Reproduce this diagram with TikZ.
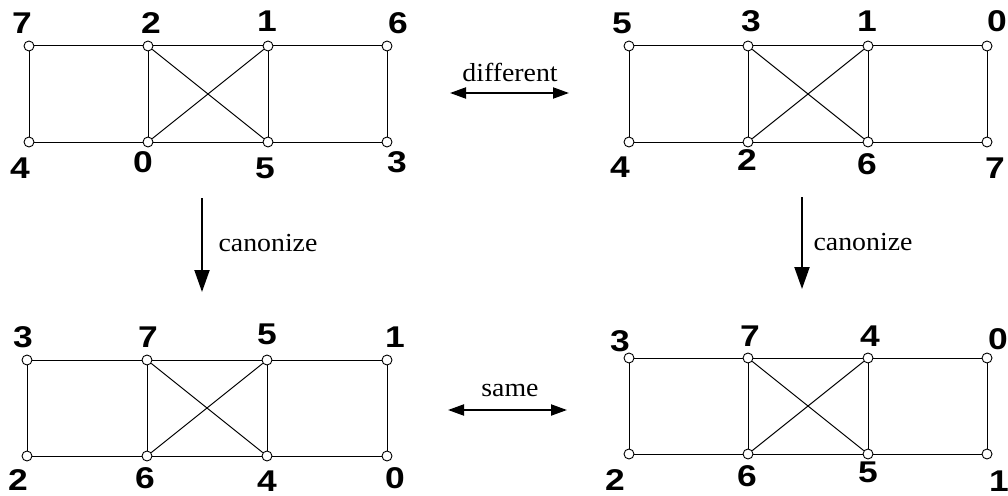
\documentclass[tikz,border=0pt]{standalone}
\usepackage{fontspec}
\setmainfont{Liberation Serif}
\newfontfamily\numfont{Liberation Sans}
\usetikzlibrary{arrows.meta}
\tikzset{
  vtx/.style={circle, draw, fill=white, inner sep=0pt, minimum size=10pt, line width=0.9pt},
  num/.style={font=\numfont\bfseries\fontsize{30}{30}\selectfont, inner sep=0pt, xscale=1.18},
  edge/.style={line width=1pt},
  txt/.style={font=\fontsize{26}{26}\selectfont, inner sep=0pt, xscale=1.07},
  arr/.style={line width=2pt, -{Triangle[length=22pt, width=15pt]}},
  darr/.style={line width=2pt, {Triangle[length=16pt, width=11pt]}-{Triangle[length=16pt, width=11pt]}}
}
\begin{document}
\begin{tikzpicture}[x=1pt, y=-1pt]
\useasboundingbox (0,0) rectangle (1008,495);
% top left
\node[vtx] (tlv7) at (29,46){};
\node[vtx] (tlv2) at (148,46){};
\node[vtx] (tlv1) at (268,46){};
\node[vtx] (tlv6) at (387,46){};
\node[vtx] (tlv4) at (29,142){};
\node[vtx] (tlv0) at (148,142){};
\node[vtx] (tlv5) at (268,142){};
\node[vtx] (tlv3) at (387,142){};
\draw[edge](tlv7) -- (tlv2);
\draw[edge](tlv2) -- (tlv1);
\draw[edge](tlv1) -- (tlv6);
\draw[edge](tlv4) -- (tlv0);
\draw[edge](tlv0) -- (tlv5);
\draw[edge](tlv5) -- (tlv3);
\draw[edge](tlv7) -- (tlv4);
\draw[edge](tlv2) -- (tlv0);
\draw[edge](tlv1) -- (tlv5);
\draw[edge](tlv6) -- (tlv3);
\draw[edge](tlv2) -- (tlv5);
\draw[edge](tlv1) -- (tlv0);
\node[num] (tll7) at (22,23){7};
\node[num] (tll2) at (151,23){2};
\node[num] (tll1) at (267,21){1};
\node[num] (tll6) at (398,23){6};
\node[num] (tll4) at (20,168){4};
\node[num] (tll0) at (143,162){0};
\node[num] (tll5) at (265,168){5};
\node[num] (tll3) at (397,162){3};
% top right
\node[vtx] (trv5) at (629,46){};
\node[vtx] (trv3) at (748,46){};
\node[vtx] (trv1) at (868,46){};
\node[vtx] (trv0) at (987,46){};
\node[vtx] (trv4) at (629,142){};
\node[vtx] (trv2) at (748,142){};
\node[vtx] (trv6) at (868,142){};
\node[vtx] (trv7) at (987,142){};
\draw[edge](trv5) -- (trv3);
\draw[edge](trv3) -- (trv1);
\draw[edge](trv1) -- (trv0);
\draw[edge](trv4) -- (trv2);
\draw[edge](trv2) -- (trv6);
\draw[edge](trv6) -- (trv7);
\draw[edge](trv5) -- (trv4);
\draw[edge](trv3) -- (trv2);
\draw[edge](trv1) -- (trv6);
\draw[edge](trv0) -- (trv7);
\draw[edge](trv3) -- (trv6);
\draw[edge](trv1) -- (trv2);
\node[num] (trl5) at (622,23){5};
\node[num] (trl3) at (751,21){3};
\node[num] (trl1) at (867,21){1};
\node[num] (trl0) at (997,21){0};
\node[num] (trl4) at (620,167){4};
\node[num] (trl2) at (747,160){2};
\node[num] (trl6) at (867,164){6};
\node[num] (trl7) at (995,168){7};
% bottom left
\node[vtx] (blv3) at (27,360){};
\node[vtx] (blv7) at (147,360){};
\node[vtx] (blv5) at (267,360){};
\node[vtx] (blv1) at (387,360){};
\node[vtx] (blv2) at (27,456){};
\node[vtx] (blv6) at (147,456){};
\node[vtx] (blv4) at (267,456){};
\node[vtx] (blv0) at (387,456){};
\draw[edge](blv3) -- (blv7);
\draw[edge](blv7) -- (blv5);
\draw[edge](blv5) -- (blv1);
\draw[edge](blv2) -- (blv6);
\draw[edge](blv6) -- (blv4);
\draw[edge](blv4) -- (blv0);
\draw[edge](blv3) -- (blv2);
\draw[edge](blv7) -- (blv6);
\draw[edge](blv5) -- (blv4);
\draw[edge](blv1) -- (blv0);
\draw[edge](blv7) -- (blv4);
\draw[edge](blv5) -- (blv6);
\node[num] (bll3) at (23,337){3};
\node[num] (bll7) at (148,337){7};
\node[num] (bll5) at (267,334){5};
\node[num] (bll1) at (395,337){1};
\node[num] (bll2) at (18,480){2};
\node[num] (bll6) at (145,478){6};
\node[num] (bll4) at (267,481){4};
\node[num] (bll0) at (395,478){0};
% bottom right
\node[vtx] (brv3) at (629,358){};
\node[vtx] (brv7) at (748,358){};
\node[vtx] (brv4) at (868,358){};
\node[vtx] (brv0) at (987,358){};
\node[vtx] (brv2) at (629,454){};
\node[vtx] (brv6) at (748,454){};
\node[vtx] (brv5) at (868,454){};
\node[vtx] (brv1) at (987,454){};
\draw[edge](brv3) -- (brv7);
\draw[edge](brv7) -- (brv4);
\draw[edge](brv4) -- (brv0);
\draw[edge](brv2) -- (brv6);
\draw[edge](brv6) -- (brv5);
\draw[edge](brv5) -- (brv1);
\draw[edge](brv3) -- (brv2);
\draw[edge](brv7) -- (brv6);
\draw[edge](brv4) -- (brv5);
\draw[edge](brv0) -- (brv1);
\draw[edge](brv7) -- (brv5);
\draw[edge](brv4) -- (brv6);
\node[num] (brl3) at (620,341){3};
\node[num] (brl7) at (750,336){7};
\node[num] (brl4) at (870,336){4};
\node[num] (brl0) at (998,339){0};
\node[num] (brl2) at (615,480){2};
\node[num] (brl6) at (747,476){6};
\node[num] (brl5) at (868,472){5};
\node[num] (brl1) at (999,481){1};
% arrows between graphs
\coordinate (dfl) at (450,93);
\coordinate (dfr) at (569,93);
\draw[darr] (dfl) -- (dfr);
\node[txt] (diff) at (510,72){different};
\coordinate (sml) at (448,410);
\coordinate (smr) at (567,410);
\draw[darr] (sml) -- (smr);
\node[txt] (same) at (510,390){same};
\coordinate (cla) at (202,198);
\coordinate (clb) at (202,292);
\draw[arr] (cla) -- (clb);
\node[txt] (canl) at (268,243){canonize};
\coordinate (cra) at (802,197);
\coordinate (crb) at (802,289);
\draw[arr] (cra) -- (crb);
\node[txt] (canr) at (863,242){canonize};
\end{tikzpicture}
\end{document}
